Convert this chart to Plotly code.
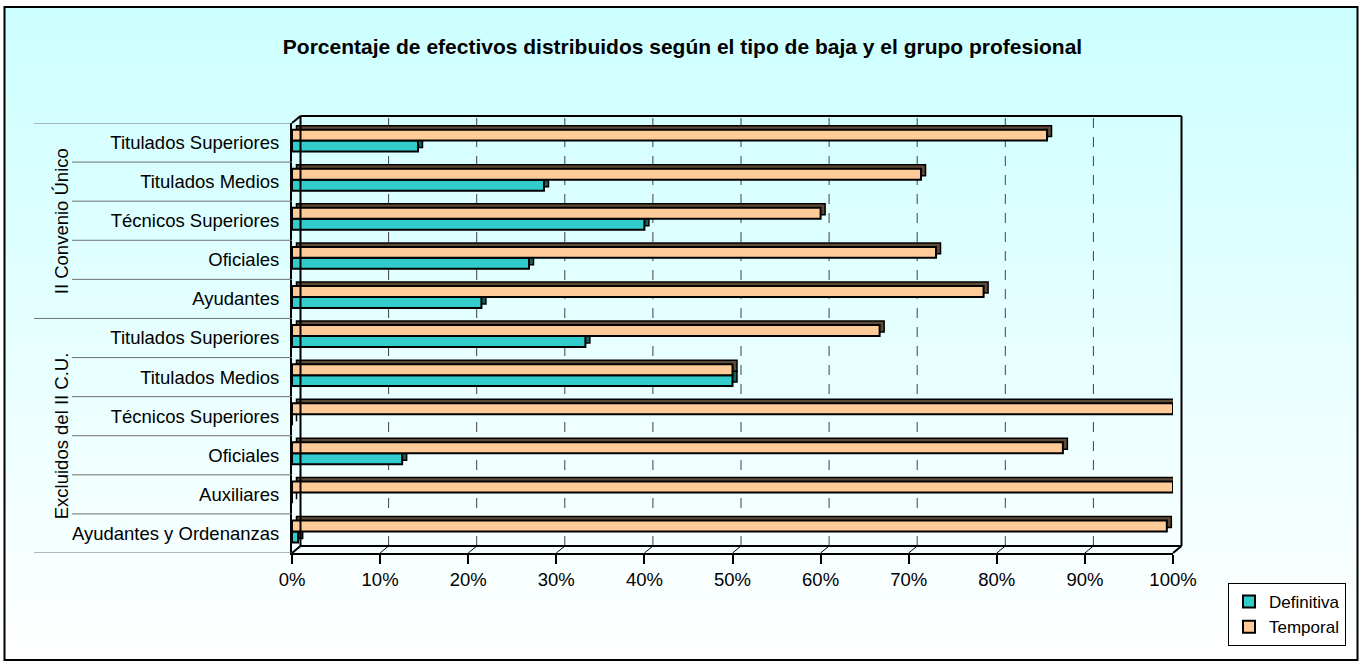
import plotly.graph_objects as go

# ---- data -------------------------------------------------------------
title = "Porcentaje de efectivos distribuidos según el tipo de baja y el grupo profesional"
groups = ["II Convenio Único", "Excluidos del II C.U."]
cats_cu = ["Titulados Superiores", "Titulados Medios", "Técnicos Superiores",
           "Oficiales", "Ayudantes"]
cats_ex = ["Titulados Superiores", "Titulados Medios", "Técnicos Superiores",
           "Oficiales", "Auxiliares", "Ayudantes y Ordenanzas"]
definitiva_cu = [14.3, 28.6, 40.0, 26.9, 21.5]
temporal_cu = [85.7, 71.4, 60.0, 73.1, 78.5]
definitiva_ex = [33.3, 50.0, 0.0, 12.5, 0.0, 0.7]
temporal_ex = [66.7, 50.0, 100.0, 87.5, 100.0, 99.3]
x_ticks = list(range(0, 101, 10))
x_tick_text = ["%d%%" % v for v in x_ticks]

labels = cats_cu + cats_ex
definitiva = definitiva_cu + definitiva_ex
temporal = temporal_cu + temporal_ex
ypos = list(range(len(labels)))

# ---- geometry (pixels) --------------------------------------------------
W, H = 1365, 662
L, R, T, B = 292, 1173, 123, 553          # front plot frame
WALL_DX, WALL_DY = 8.5, 7.0               # depth of the back wall
BAR_DX, BAR_DY = 4.5, 4.0                 # depth of each bar
band = (B - T) / len(labels)

def px_x(px):
    return (px - L) / (R - L)

def px_y(py):
    return (B - py) / (B - T)

xmax = 100.0
bar_dx = BAR_DX / (R - L) * xmax
bar_dy = BAR_DY / band
wall_dx_data = WALL_DX / (R - L) * xmax

TEAL, TEAL_D = "#33CCCC", "#166060"
PEACH, PEACH_D = "#FFCC99", "#5E4A36"
FONT = "Liberation Sans, Arial, sans-serif"
FS = 18.5

w = 0.28
off_temp, off_def = -0.33, -0.05

fig = go.Figure()

# depth faces (drawn first, behind the front faces)
for vals, off, col in [(definitiva, off_def, TEAL_D), (temporal, off_temp, PEACH_D)]:
    fig.add_trace(go.Bar(
        x=vals, y=ypos, orientation="h", base=bar_dx,
        offset=off - bar_dy, width=w,
        marker=dict(color=col, line=dict(color="black", width=1.5)),
        showlegend=False, hoverinfo="skip"))

# front faces
fig.add_trace(go.Bar(
    x=definitiva, y=ypos, orientation="h", name="Definitiva",
    offset=off_def, width=w,
    marker=dict(color=TEAL, line=dict(color="black", width=2))))
fig.add_trace(go.Bar(
    x=temporal, y=ypos, orientation="h", name="Temporal",
    offset=off_temp, width=w,
    marker=dict(color=PEACH, line=dict(color="black", width=2))))

shapes = []

# background gradient inside the chart border
top_px, bot_px = 7, 660
n = 60
c0, c1 = (204, 255, 255), (255, 255, 255)
for i in range(n):
    y0 = top_px + (bot_px - top_px) * i / n
    y1 = top_px + (bot_px - top_px) * (i + 1) / n + 0.5
    t = (i + 0.5) / n
    c = tuple(round(a + (b - a) * t) for a, b in zip(c0, c1))
    shapes.append(dict(type="rect", xref="paper", yref="paper", layer="below",
                       x0=px_x(4.5), x1=px_x(1357.5), y0=px_y(y1), y1=px_y(y0),
                       line=dict(width=0), fillcolor="rgb(%d,%d,%d)" % c))

# chart border
shapes.append(dict(type="rect", xref="paper", yref="paper", layer="below",
                   x0=px_x(4.5), x1=px_x(1357.5), y0=px_y(660), y1=px_y(7),
                   line=dict(color="black", width=2), fillcolor="rgba(0,0,0,0)"))

# back wall and floor edges
wx0, wx1 = px_x(L + WALL_DX), px_x(R + WALL_DX)
wy0, wy1 = px_y(B - WALL_DY), px_y(T - WALL_DY)
edge = dict(color="black", width=2)
for seg in [
    (wx0, wy1, wx1, wy1),      # back top
    (wx1, wy0, wx1, wy1),      # back right
    (wx0, wy0, wx1, wy0),      # back bottom
    (wx0, wy0, wx0, wy1),      # back left
    (0, 1, wx0, wy1),          # top-left diagonal
    (0, 0, wx0, wy0),          # bottom-left diagonal
    (1, 0, wx1, wy0),          # bottom-right diagonal
]:
    shapes.append(dict(type="line", xref="paper", yref="paper", layer="above",
                       x0=seg[0], y0=seg[1], x1=seg[2], y1=seg[3], line=edge))

# dashed gridlines on the back wall and floor tick slants
for v in x_ticks[1:-1]:
    shapes.append(dict(type="line", xref="x", yref="paper", layer="below",
                       x0=v + wall_dx_data, x1=v + wall_dx_data, y0=wy0, y1=wy1,
                       line=dict(color="#404040", width=1, dash="10px,9px")))
for v in x_ticks:
    shapes.append(dict(type="line", xref="x", yref="paper", layer="above",
                       x0=v, x1=v + wall_dx_data, y0=0, y1=wy0,
                       line=dict(color="black", width=1)))

# category separators with longer lines at group boundaries
group_edges = {0, len(cats_cu), len(labels)}
for k in range(len(labels) + 1):
    x0 = px_x(34) if k in group_edges else px_x(72)
    shapes.append(dict(type="line", xref="paper", yref="y", layer="above",
                       x0=x0, x1=0, y0=k - 0.5, y1=k - 0.5,
                       line=dict(color="#707070", width=1)))

annotations = [
    dict(text=groups[0], textangle=-90, xref="paper", yref="y",
         x=px_x(49), y=(len(cats_cu) - 1) / 2, showarrow=False,
         font=dict(family=FONT, size=FS, color="black")),
    dict(text=groups[1], textangle=-90, xref="paper", yref="y",
         x=px_x(49), y=len(cats_cu) + (len(cats_ex) - 1) / 2, showarrow=False,
         font=dict(family=FONT, size=FS, color="black")),
]

fig.update_layout(
    width=W, height=H,
    margin=dict(l=L, r=W - R, t=T, b=H - B, pad=0),
    paper_bgcolor="white", plot_bgcolor="rgba(0,0,0,0)",
    barmode="overlay",
    title=dict(text="<b>%s</b>" % title, x=682.5 / W, xref="container",
               xanchor="center", y=1 - 47 / H, yanchor="middle", yref="container",
               font=dict(family=FONT, size=21, color="black")),
    font=dict(family=FONT, size=FS, color="black"),
    xaxis=dict(range=[0, xmax], tickmode="array", tickvals=x_ticks,
               ticktext=x_tick_text,
               ticks="outside", ticklen=9, tickwidth=2, tickcolor="black",
               showline=True, linecolor="black", linewidth=2,
               showgrid=False, zeroline=False, fixedrange=True,
               tickfont=dict(family=FONT, size=FS)),
    yaxis=dict(range=[len(labels) - 0.5, -0.5], tickmode="array",
               tickvals=ypos, ticktext=labels,
               ticks="", showline=True, linecolor="black", linewidth=2,
               showgrid=False, zeroline=False, ticklabelstandoff=7,
               tickfont=dict(family=FONT, size=FS)),
    legend=dict(x=px_x(1228), y=px_y(583), xanchor="left", yanchor="top",
                bgcolor="white", bordercolor="black", borderwidth=1,
                font=dict(family=FONT, size=17), traceorder="normal",
                itemwidth=30, tracegroupgap=2),
    shapes=shapes, annotations=annotations,
)

fig.write_html("out.html")
